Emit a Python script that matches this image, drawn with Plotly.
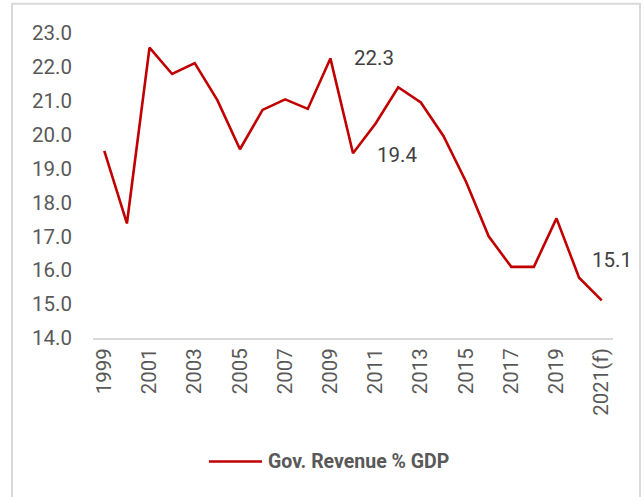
import plotly.graph_objects as go

years = [str(y) for y in range(1999, 2021)] + ["2021(f)"]
revenue = [19.52, 17.38, 22.57, 21.79, 22.11, 21.02, 19.57, 20.73, 21.04, 20.76,
           22.25, 19.45, 20.33, 21.40, 20.95, 19.96, 18.61, 17.00, 16.10, 16.10,
           17.53, 15.78, 15.11]
tick_years = [years[i] for i in range(0, len(years), 2)]
series_name = "Gov. Revenue % GDP"
labelled = {"2009": "22.3", "2010": "19.4", "2021(f)": "15.1"}

L, R, T, B = 93, 31, 33.3, 159.3
W, H = 644, 497
pw, ph = W - L - R, H - T - B

def px_x(p):
    return (p - L) / pw

def px_y(p):
    return (T + ph - p) / ph

fig = go.Figure()
fig.add_trace(go.Scatter(x=years, y=revenue, mode="lines", name=series_name,
                         line=dict(color="#C00000", width=2.6), showlegend=False))

shifts = {"2009": (44, 0), "2010": (44, -2), "2021(f)": (10, 40)}
for yr, txt in labelled.items():
    i = years.index(yr)
    dx, dy = shifts[yr]
    fig.add_annotation(x=i, y=revenue[i], xref="x", yref="y", text=txt,
                       showarrow=False, xshift=dx, yshift=dy,
                       font=dict(family="Roboto", size=20.5, color="#404040"))

# outer border
fig.add_shape(type="rect", xref="paper", yref="paper",
              x0=px_x(12), x1=px_x(640), y0=-0.7, y1=px_y(4),
              line=dict(color="#D9D9D9", width=2), fillcolor="rgba(0,0,0,0)")

# legend (manual placement to match the reference)
fig.add_shape(type="line", xref="paper", yref="paper",
              x0=px_x(209), x1=px_x(262), y0=px_y(461), y1=px_y(461),
              line=dict(color="#C00000", width=2.6))
fig.add_annotation(xref="paper", yref="paper", x=px_x(266), y=px_y(461),
                   xanchor="left", yanchor="middle", showarrow=False,
                   text="<b>" + series_name + "</b>",
                   font=dict(family="Roboto", size=19.5, color="#595959"))

fig.update_layout(
    width=W, height=H,
    margin=dict(l=L, r=R, t=T, b=B, pad=0),
    paper_bgcolor="white", plot_bgcolor="white",
    font=dict(family="Roboto", size=20.5, color="#595959"),
    showlegend=False,
    xaxis=dict(type="category", tickmode="array", tickvals=tick_years,
               ticktext=tick_years, tickangle=-90, showgrid=False,
               showline=True, linecolor="#D9D9D9", linewidth=2,
               ticks="", ticklabelstandoff=0, range=[-0.5, len(years) - 0.5]),
    yaxis=dict(range=[14, 23], dtick=1, tickformat=".1f", showgrid=False,
               showline=False, zeroline=False, ticks="", ticklabelstandoff=20),
)

fig.write_html("out.html")
